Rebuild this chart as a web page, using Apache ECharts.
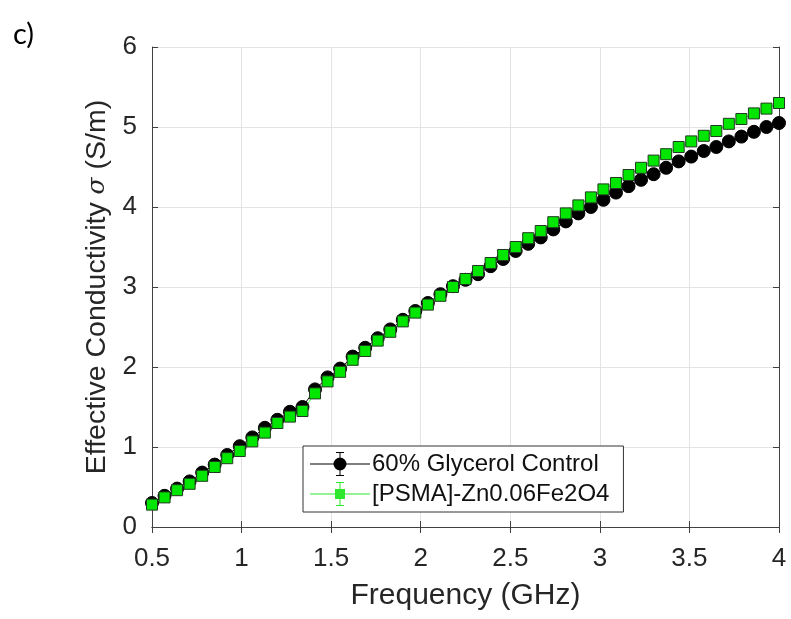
<!DOCTYPE html>
<html>
<head>
<meta charset="utf-8">
<script src="https://cdn.jsdelivr.net/npm/echarts@6/dist/echarts.min.js"></script>
<style>
  html, body { margin: 0; padding: 0; background: #fff; }
  #chart { width: 791px; height: 619px; }
</style>
</head>
<body>
<div id="chart"></div>
<script>
// frequency points (GHz)
var freq = [0.50, 0.57, 0.64, 0.71, 0.78, 0.85, 0.92, 0.99, 1.06, 1.13,
            1.20, 1.27, 1.34, 1.41, 1.48, 1.55, 1.62, 1.69, 1.76, 1.83,
            1.90, 1.97, 2.04, 2.11, 2.18, 2.25, 2.32, 2.39, 2.46, 2.53,
            2.60, 2.67, 2.74, 2.81, 2.88, 2.95, 3.02, 3.09, 3.16, 3.23,
            3.30, 3.37, 3.44, 3.51, 3.58, 3.65, 3.72, 3.79, 3.86, 3.93, 4.00];

// 60% Glycerol Control
var control = [0.30, 0.39, 0.48, 0.57, 0.68, 0.78, 0.90, 1.01, 1.12, 1.24,
               1.34, 1.44, 1.50, 1.72, 1.87, 1.98, 2.13, 2.24, 2.36, 2.47,
               2.59, 2.70, 2.80, 2.91, 3.01, 3.09, 3.16, 3.26, 3.35, 3.45,
               3.54, 3.62, 3.72, 3.82, 3.92, 4.00, 4.09, 4.18, 4.26, 4.34,
               4.41, 4.49, 4.57, 4.63, 4.70, 4.75, 4.82, 4.88, 4.94, 5.00, 5.05];

// [PSMA]-Zn0.06Fe2O4
var psma = [0.28, 0.37, 0.46, 0.54, 0.64, 0.75, 0.86, 0.95, 1.07, 1.18,
            1.30, 1.38, 1.45, 1.67, 1.82, 1.94, 2.09, 2.20, 2.33, 2.44,
            2.57, 2.68, 2.78, 2.89, 3.00, 3.10, 3.20, 3.30, 3.40, 3.50,
            3.61, 3.70, 3.81, 3.92, 4.02, 4.12, 4.22, 4.30, 4.40, 4.49,
            4.58, 4.66, 4.75, 4.82, 4.89, 4.95, 5.04, 5.10, 5.17, 5.23, 5.30];

var seriesNames = ['60% Glycerol Control', '[PSMA]-Zn0.06Fe2O4'];

function pairs(xs, ys) {
  var out = [];
  for (var i = 0; i < xs.length; i++) out.push([xs[i], ys[i]]);
  return out;
}

// legend icons: line + errorbar + marker (all subpaths clockwise)
var barPath = 'M0 11.5 H60 V12.5 H0 Z M29.5 0 H30.5 V24 H29.5 Z M26 0 H34 V1 H26 Z M26 23 H34 V24 H26 Z ';
var iconCircle = 'path://' + barPath + 'M36.5 12 A6.5 6.5 0 1 1 23.5 12 A6.5 6.5 0 1 1 36.5 12 Z';
var iconSquare = 'path://' + barPath + 'M25 7 H35 V17 H25 Z';

var axisColor = '#404040';
var font = 'Liberation Sans, Arial, sans-serif';

var myChart = echarts.init(document.getElementById('chart'));

var option = {
  backgroundColor: '#fff',
  animation: false,
  title: {
    text: 'c)',
    left: 8,
    top: 15,
    textStyle: { fontFamily: 'Lato, Open Sans, sans-serif', fontSize: 29, fontWeight: 'normal', color: '#000' }
  },
  grid: { left: 152, right: 12, top: 47, bottom: 92 },
  legend: {
    data: [
      { name: seriesNames[0], icon: iconCircle, itemStyle: { color: '#000', borderWidth: 0 } },
      { name: seriesNames[1], icon: iconSquare, itemStyle: { color: '#2ee82e', borderWidth: 0 } }
    ],
    orient: 'vertical',
    left: 303,
    top: 446,
    itemWidth: 60,
    itemHeight: 24,
    itemGap: 6,
    padding: [6, 14, 6, 7],
    backgroundColor: '#fff',
    borderColor: '#333',
    borderWidth: 1,
    textStyle: { fontFamily: font, fontSize: 24, color: '#111', padding: [0, 0, 0, -3] }
  },
  xAxis: [{
    type: 'value',
    min: 0.5,
    max: 4,
    interval: 0.5,
    name: 'Frequency (GHz)',
    nameLocation: 'middle',
    nameGap: 54,
    nameTextStyle: { fontFamily: font, fontSize: 30, color: '#262626' },
    axisLine: { lineStyle: { color: axisColor } },
    axisTick: { inside: true, length: 6, lineStyle: { color: axisColor } },
    axisLabel: { fontFamily: font, fontSize: 26, color: '#262626', margin: 19 },
    splitLine: { lineStyle: { color: '#e3e3e3' } }
  }, {
    type: 'value',
    position: 'top',
    min: 0.5,
    max: 4,
    interval: 0.5,
    axisLine: { lineStyle: { color: axisColor } },
    axisTick: { inside: true, length: 6, lineStyle: { color: axisColor } },
    axisLabel: { show: false },
    splitLine: { show: false }
  }],
  yAxis: [{
    type: 'value',
    min: 0,
    max: 6,
    interval: 1,
    name: 'Effective Conductivity {s|σ} (S/m)',
    nameLocation: 'middle',
    nameGap: 40,
    nameTextStyle: {
      fontFamily: font, fontSize: 28.5, color: '#262626',
      rich: { s: { fontFamily: 'DejaVu Serif, serif', fontStyle: 'italic', fontSize: 25, color: '#262626' } }
    },
    axisLine: { show: true, lineStyle: { color: axisColor } },
    axisTick: { show: true, inside: true, length: 6, lineStyle: { color: axisColor } },
    axisLabel: { fontFamily: font, fontSize: 26, color: '#262626', margin: 15 },
    splitLine: { lineStyle: { color: '#e3e3e3' } }
  }, {
    type: 'value',
    position: 'right',
    min: 0,
    max: 6,
    interval: 1,
    axisLine: { show: true, lineStyle: { color: axisColor } },
    axisTick: { show: true, inside: true, length: 6, lineStyle: { color: axisColor } },
    axisLabel: { show: false },
    splitLine: { show: false }
  }],
  series: [{
    name: seriesNames[0],
    type: 'line',
    data: pairs(freq, control),
    symbol: 'circle',
    symbolSize: 13,
    lineStyle: { color: '#000', width: 1 },
    itemStyle: { color: '#000', borderColor: '#000', borderWidth: 1 }
  }, {
    name: seriesNames[1],
    type: 'line',
    data: pairs(freq, psma),
    symbol: 'rect',
    symbolSize: 11,
    lineStyle: { color: '#33ff33', width: 1 },
    itemStyle: { color: '#00e600', borderColor: '#1f3a1f', borderWidth: 1 }
  }]
};

myChart.setOption(option);
</script>
</body>
</html>
